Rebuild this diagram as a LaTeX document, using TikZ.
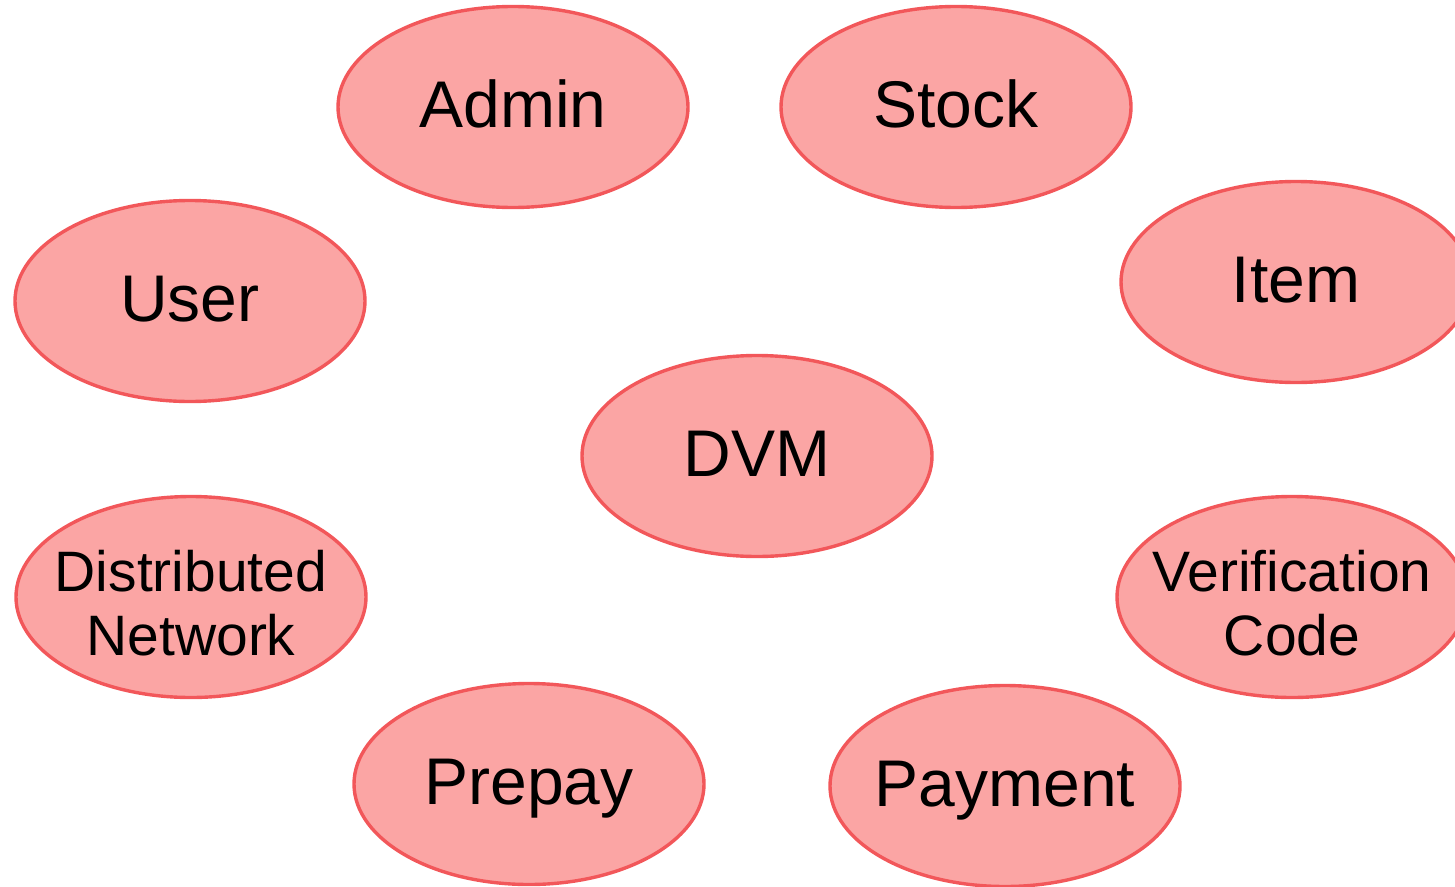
\documentclass[tikz,border=0pt]{standalone}
\usepackage{fontspec}
\setmainfont{Liberation Sans}
\usetikzlibrary{shapes.geometric}
\definecolor{ovfill}{HTML}{FBA5A4}
\definecolor{ovline}{HTML}{F2575A}
\newcommand{\ovtext}[1]{\makebox[0pt]{\raisebox{-20pt}[0pt][0pt]{#1}}}
\newcommand{\ovtwo}[2]{\makebox[0pt]{\raisebox{-20pt}[0pt][0pt]{\begin{tabular}{@{}c@{}}#1\\#2\end{tabular}}}}
\begin{document}
\begin{tikzpicture}[x=1pt,y=-1pt,
  oval/.style={ellipse, draw=ovline, fill=ovfill, line width=3.4pt,
    minimum width=350pt, minimum height=201pt, inner sep=0pt,
    font=\fontsize{66}{74}\selectfont},
  oval2/.style={oval, font=\fontsize{57}{64}\selectfont}]
\useasboundingbox (0,0) rectangle (1455,886);
\node[oval] (admin) at (513,107) {\ovtext{Admin}};
\node[oval] (stock) at (956,107) {\ovtext{Stock}};
\node[oval] (item) at (1296,282) {\ovtext{Item}};
\node[oval] (user) at (190,301) {\ovtext{User}};
\node[oval] (dvm) at (757,456) {\ovtext{DVM}};
\node[oval2] (dist) at (191,597) {\ovtwo{Distributed}{Network}};
\node[oval2] (verif) at (1292,597) {\ovtwo{Verification}{Code}};
\node[oval] (prepay) at (529,784) {\ovtext{Prepay}};
\node[oval] (payment) at (1005,786) {\ovtext{Payment}};
\end{tikzpicture}
\end{document}
